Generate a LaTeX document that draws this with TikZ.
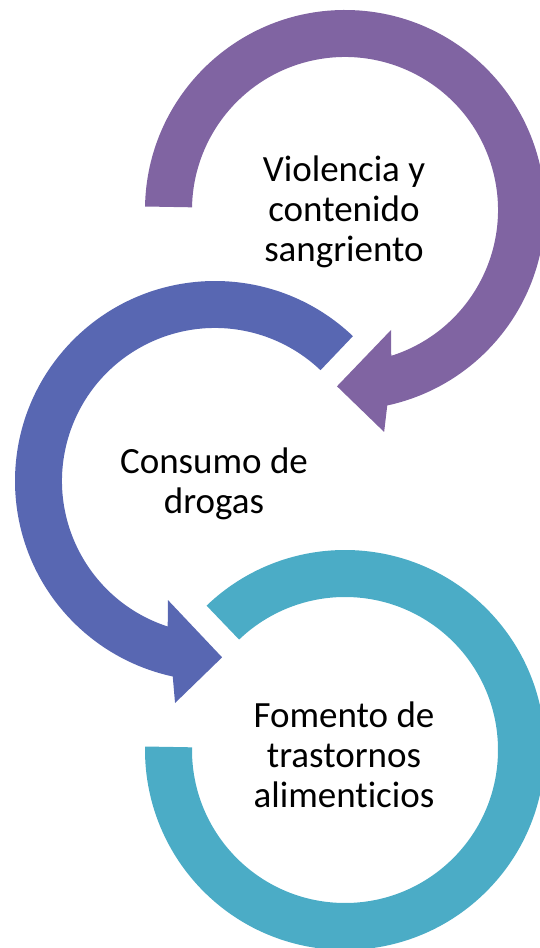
\documentclass[tikz,border=0pt]{standalone}
\usepackage{fontspec}
\setmainfont[Ligatures=NoCommon]{Carlito}
\definecolor{purp}{HTML}{8064A2}
\definecolor{blu}{HTML}{5867B2}
\definecolor{teal}{HTML}{4BACC6}
\begin{document}
\begin{tikzpicture}[x=1pt,y=1pt,
  lbl/.style={align=center,font=\fontsize{37}{40}\selectfont,text=black,inner sep=0pt}]
\useasboundingbox (0,0) rectangle (539,948);
\coordinate (c1) at (345,738);
\coordinate (c2) at (215,467);
\coordinate (c3) at (345,198);
% purple arrow
\fill[purp] ([shift={(179:200)}]c1) arc[start angle=179,end angle=-77.8,radius=200]
  -- ([shift={(-80:225.4)}]c1) -- ([shift={(-92.6:176.5)}]c1)
  -- ([shift={(-69:128.5)}]c1) -- ([shift={(-72.4:153)}]c1)
  arc[start angle=-72.4,end angle=179,radius=153] -- cycle;
% blue arrow
\fill[blu] ([shift={(46.4:200)}]c2) arc[start angle=46.4,end angle=257.8,radius=200]
  -- ([shift={(259.8:225.6)}]c2) -- ([shift={(272.3:176.5)}]c2)
  -- ([shift={(248.4:128)}]c2) -- ([shift={(252:153)}]c2)
  arc[start angle=252,end angle=46.4,radius=153] -- cycle;
% teal ring
\fill[teal] ([shift={(133.8:200)}]c3) arc[start angle=133.8,end angle=-181,radius=200]
  -- ([shift={(-181:153)}]c3)
  arc[start angle=-181,end angle=133.8,radius=153] -- cycle;
\node[lbl] (t1) at (344,736) {Violencia y\\contenido\\sangriento};
\node[lbl] (t2) at (214,464) {Consumo de\\drogas};
\node[lbl] (t3) at (344,193) {Fomento de\\trastornos\\alimenticios};
\end{tikzpicture}
\end{document}
